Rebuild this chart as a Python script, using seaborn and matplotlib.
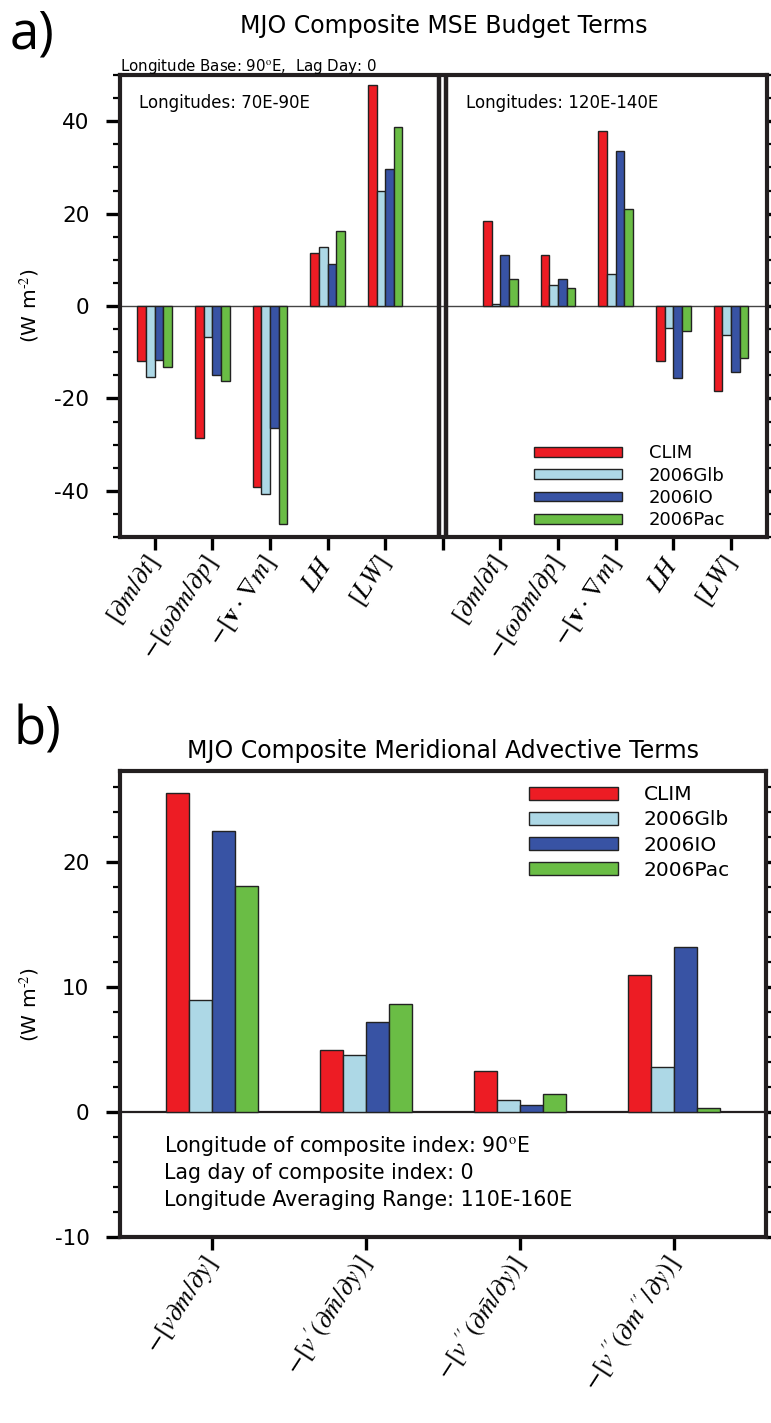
import pandas as pd
import matplotlib
matplotlib.use("Agg")
import matplotlib.pyplot as plt
import seaborn as sns
from matplotlib.ticker import MultipleLocator

# runs and colours
runs = ["CLIM", "2006Glb", "2006IO", "2006Pac"]
colors = ["#ED1C24", "#ADD8E6", "#3853A4", "#6ABD45"]

# panel a: MSE budget terms (W m-2), 70E-90E and 120E-140E
terms_a = [r"$[\partial m/\partial t]$", r"$-[\omega\partial m/\partial p]$",
           r"$-[\mathbf{v}\cdot\nabla m]$", r"$LH$", r"$[LW]$"]
clim_west = [-11.8, -28.5, -39.2, 11.4, 47.8]
glb_west = [-15.4, -6.7, -40.6, 12.8, 24.8]
io_west = [-11.7, -14.9, -26.3, 9.2, 29.7]
pac_west = [-13.3, -16.2, -47.2, 16.2, 38.7]
clim_east = [18.4, 11.0, 37.8, -11.8, -18.3]
glb_east = [0.5, 4.5, 7.0, -4.7, -6.2]
io_east = [11.1, 5.9, 33.6, -15.6, -14.3]
pac_east = [5.8, 3.9, 21.0, -5.5, -11.3]

# panel b: meridional advective terms (W m-2)
terms_b = [r"$-[v\partial m/\partial y]$", r"$-[v'(\partial \bar{m}/\partial y)]$",
           r"$-[v''(\partial \bar{m}/\partial y)]$", r"$-[v''(\partial m''/\partial y)]$"]
clim_b = [25.5, 5.0, 3.3, 11.0]
glb_b = [9.0, 4.6, 1.0, 3.6]
io_b = [22.5, 7.2, 0.6, 13.2]
pac_b = [18.1, 8.7, 1.5, 0.35]

plt.rcParams["font.family"] = "DejaVu Sans"
plt.rcParams["mathtext.fontset"] = "stix"
plt.rcParams["axes.unicode_minus"] = False

# build long tables
rows = []
for run, w, e in zip(runs, [clim_west, glb_west, io_west, pac_west],
                     [clim_east, glb_east, io_east, pac_east]):
    for i, v in enumerate(w):
        rows.append({"pos": i, "value": v, "run": run})
    for i, v in enumerate(e):
        rows.append({"pos": i + 6, "value": v, "run": run})
df_a = pd.DataFrame(rows)

rows = []
for run, vals in zip(runs, [clim_b, glb_b, io_b, pac_b]):
    for t, v in zip(terms_b, vals):
        rows.append({"term": t, "value": v, "run": run})
df_b = pd.DataFrame(rows)

fig = plt.figure(figsize=(7.71, 14.23), dpi=100)
ax1 = fig.add_axes([0.1556, 0.6226, 0.839, 0.3247])
ax2 = fig.add_axes([0.1556, 0.1304, 0.838, 0.3278])

sns.barplot(data=df_a, x="pos", y="value", hue="run", hue_order=runs,
            palette=colors, native_scale=True, width=0.6, saturation=1,
            edgecolor="#222222", linewidth=1, ax=ax1)
sns.barplot(data=df_b, x="term", y="value", hue="run", hue_order=runs,
            order=terms_b, palette=colors, width=0.6, saturation=1,
            edgecolor="#222222", linewidth=1, ax=ax2)


def style_axis(ax):
    for s in ax.spines.values():
        s.set_linewidth(3)
        s.set_color("#231F20")
    ax.tick_params(axis="y", which="major", direction="out", length=10, width=2.4,
                   labelsize=15.5, pad=12, left=True, right=True, labelright=False)
    ax.tick_params(axis="y", which="minor", direction="out", length=5, width=1.6,
                   left=True, right=True)
    ax.tick_params(axis="x", which="major", direction="out", length=9.5, width=2.4,
                   pad=6, top=False)
    ax.set_xlabel("")
    ax.set_ylabel(r"(W m$^{\text{-2}}$)", fontsize=14.5)
    ax.yaxis.set_label_coords(-0.1206, 0.5)


# panel a
ax1.set_xlim(-0.6, 10.62)
ax1.set_ylim(-50, 50)
ax1.axhline(0, color="#444444", lw=1, zorder=0.5)
for off in (-0.058, 0.058):
    ax1.axvline(5 + off, color="#231F20", lw=3.2)
ax1.set_xticks(range(11))
ax1.set_xticklabels(terms_a + [""] + terms_a, rotation=57, ha="right",
                    va="center", rotation_mode="anchor", fontsize=19)
ax1.yaxis.set_major_locator(MultipleLocator(20))
ax1.yaxis.set_minor_locator(MultipleLocator(5))
style_axis(ax1)
h, l = ax1.get_legend_handles_labels()
ax1.legend(h, l, loc="lower left", bbox_to_anchor=(0.64, 0.017), frameon=False,
           fontsize=13, handlelength=4.9, handleheight=0.45, labelspacing=0.24,
           handletextpad=1.45, borderpad=0, borderaxespad=0)
ax1.text(0.029, 0.929, "Longitudes: 70E-90E", transform=ax1.transAxes,
         fontsize=12, va="baseline")
ax1.text(0.535, 0.929, "Longitudes: 120E-140E", transform=ax1.transAxes,
         fontsize=12, va="baseline")
ax1.text(0.0, 1.0087, r"Longitude Base: 90$^{\rm o}$E,  Lag Day: 0",
         transform=ax1.transAxes, fontsize=10.8, va="baseline")

# panel b
ax2.set_xlim(-0.6, 3.6)
ax2.set_ylim(-10, 27.3)
ax2.axhline(0, color="#231F20", lw=1.6, zorder=0.5)
ax2.set_xticks(range(4))
ax2.set_xticklabels(terms_b, rotation=57, ha="right", va="center",
                    rotation_mode="anchor", fontsize=19)
ax2.yaxis.set_major_locator(MultipleLocator(10))
ax2.yaxis.set_minor_locator(MultipleLocator(2))
style_axis(ax2)
h, l = ax2.get_legend_handles_labels()
ax2.legend(h, l, loc="upper left", bbox_to_anchor=(0.633, 0.969), frameon=False,
           fontsize=14.5, handlelength=4.4, handleheight=0.58, labelspacing=0.3,
           handletextpad=1.3, borderpad=0, borderaxespad=0)
info = [r"Longitude of composite index: 90$^{\rm o}$E",
        "Lag day of composite index: 0",
        "Longitude Averaging Range: 110E-160E"]
for k, line in enumerate(info):
    ax2.text(0.068, 0.184 - k * 0.0585, line, transform=ax2.transAxes,
             fontsize=14.8, va="baseline")

# titles and panel letters
cx = 0.1556 + 0.839 / 2
fig.text(cx, 1 - 33 / 1423, "MJO Composite MSE Budget Terms", ha="center",
         va="baseline", fontsize=17)
fig.text(cx, 1 - 758 / 1423, "MJO Composite Meridional Advective Terms",
         ha="center", va="baseline", fontsize=17)
fig.text(0.012, 1 - 8 / 1423, "a)", fontsize=38, va="top", family="Open Sans")
fig.text(0.018, 1 - 704 / 1423, "b)", fontsize=38, va="top", family="Open Sans")

fig.savefig("out.png", dpi=100)
